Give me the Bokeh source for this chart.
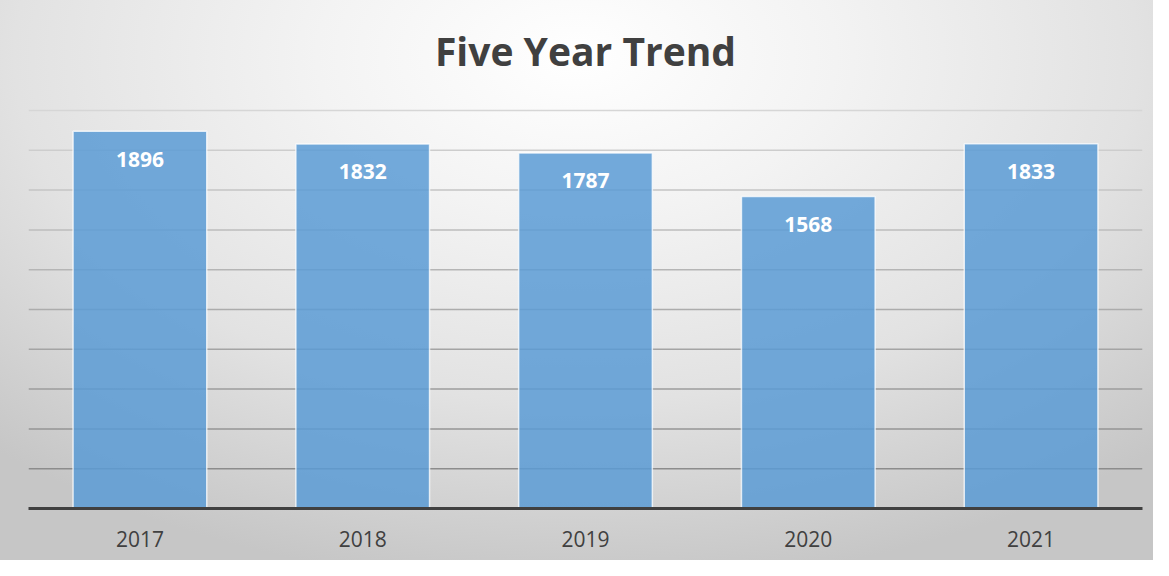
from bokeh.plotting import figure
from bokeh.models import ColumnDataSource, Range1d, FactorRange, Span, Label
from bokeh.core.properties import value
from bokeh.embed import file_html
from bokeh.resources import INLINE

years = ["2017", "2018", "2019", "2020", "2021"]
counts = [1896, 1832, 1787, 1568, 1833]
grid_values = [200, 400, 600, 800, 1000, 1200, 1400, 1600, 1800, 2000]
title_text = "Five Year Trend"

W, H = 1153, 560
left, right, bottom = 28, 11, 52
frame_h = H - bottom
top_px = 110            # pixel row of the 2000 gridline inside the figure
ymax_grid = 2000
y_end = ymax_grid * frame_h / (frame_h - top_px)

p = figure(width=W, height=H, x_range=FactorRange(*years), y_range=Range1d(0, y_end),
           output_backend="svg", toolbar_location=None,
           min_border_left=left, min_border_right=right, min_border_bottom=bottom, min_border_top=0)
p.background_fill_color = None
p.border_fill_color = None
p.outline_line_color = None
p.styles = {"background": "radial-gradient(ellipse 75% 95% at 50% 10%, #ffffff 0%, #f3f3f3 30%, #e2e2e2 65%, #c6c6c6 100%)"}

p.xgrid.visible = False
p.ygrid.visible = False
p.yaxis.visible = False

n = len(grid_values)
for i, gv in enumerate(grid_values):
    t = i / (n - 1)
    c = int(140 + t * (214 - 140))
    p.add_layout(Span(location=gv, dimension="width", line_color=(c, c, c), line_width=1.5, level="underlay"))

src = ColumnDataSource(dict(x=years, y=counts, lab=[str(v) for v in counts]))
p.vbar(x="x", top="y", width=0.6, source=src, fill_color="#5B9BD5", fill_alpha=0.85,
       line_color="white", line_alpha=0.75, line_width=1.5)
p.text(x="x", y="y", text="lab", source=src, y_offset=28, text_align="center", text_baseline="middle",
       text_color="white", text_font=value("Open Sans"), text_font_style="bold", text_font_size="21px")

xa = p.xaxis[0]
xa.axis_line_color = "#404040"
xa.axis_line_width = 3
xa.major_tick_line_color = None
xa.minor_tick_line_color = None
xa.major_label_standoff = 16
xa.major_label_text_font = "Open Sans"
xa.major_label_text_font_size = "21px"
xa.major_label_text_color = "#404040"

title_y = y_end * (frame_h - 50) / frame_h
p.add_layout(Label(x=len(years) / 2, y=title_y, text=title_text, text_align="center", text_baseline="middle",
                   text_font="Open Sans", text_font_style="bold", text_font_size="39px", text_color="#404040"))

open("out.html", "w").write(file_html(p, INLINE))
